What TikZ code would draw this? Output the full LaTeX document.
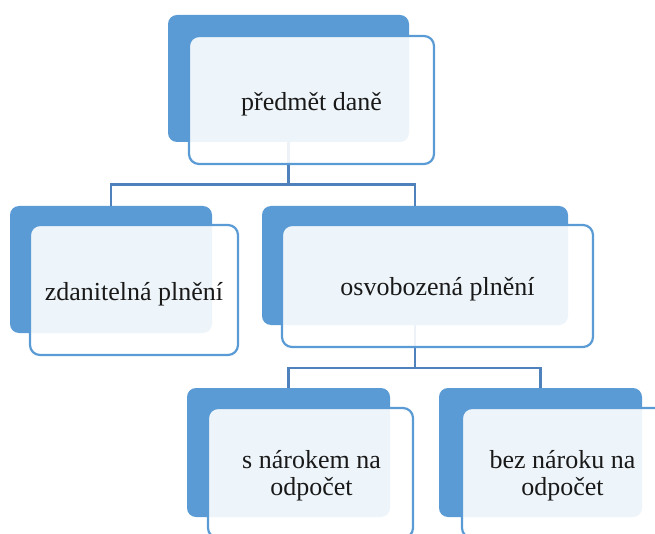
\documentclass[tikz,border=0pt]{standalone}
\usepackage{fontspec}
\setmainfont{Liberation Serif}
\definecolor{accent}{HTML}{5B9BD5}
\definecolor{linkblue}{HTML}{4F81BD}
\tikzset{
  backbox/.style={fill=accent, rounded corners=9pt, inner sep=0pt, outer sep=0pt},
  frontbox/.style={draw=accent, line width=2.2pt, fill=white, fill opacity=0.9,
    rounded corners=10pt, inner sep=0pt, outer sep=0pt},
  caption/.style={align=center, inner sep=0pt, text=black!90,
    font=\fontsize{26}{27}\selectfont},
  link/.style={draw=linkblue, line width=2.8pt}
}
\begin{document}
\begin{tikzpicture}[x=1pt,y=-1pt]
  \useasboundingbox (0,0) rectangle (655,534);
  \clip (0,0) rectangle (655,534);

  % coloured back plates
  \node[backbox, minimum width=241pt, minimum height=127pt] (btop) at (288.5,78.5) {};
  \node[backbox, minimum width=202pt, minimum height=127pt] (bzd)  at (111,269.5) {};
  \node[backbox, minimum width=306pt, minimum height=119pt] (bosv) at (415,265.5) {};
  \node[backbox, minimum width=203pt, minimum height=129pt] (bsn)  at (288.5,452.5) {};
  \node[backbox, minimum width=203pt, minimum height=129pt] (bbez) at (540.5,452.5) {};

  % tree connectors
  \coordinate (bus1) at (288.5,184.5);
  \coordinate (bus2) at (415,368);
  \draw[link] (btop.south) -- (bus1);
  \draw[link] (bus1) -| (bzd.north);
  \draw[link] (bus1) -| (bosv.north);
  \draw[link] (bosv.south) -- (bus2);
  \draw[link] (bus2) -| (bsn.north);
  \draw[link] (bus2) -| (bbez.north);

  % front cards
  \node[frontbox, minimum width=245pt, minimum height=128pt] (ftop) at (311.5,100) {};
  \node[frontbox, minimum width=208pt, minimum height=130pt] (fzd)  at (134,290) {};
  \node[frontbox, minimum width=311pt, minimum height=122pt] (fosv) at (437.5,286) {};
  \node[frontbox, minimum width=205pt, minimum height=130pt] (fsn)  at (310.5,473) {};
  \node[frontbox, minimum width=205pt, minimum height=130pt] (fbez) at (564.5,473) {};

  % labels
  \node[caption] (ttop) at ([yshift=-4pt]ftop.center) {předmět daně};
  \node[caption] (tzd)  at ([yshift=-4pt]fzd.center)  {zdanitelná plnění};
  \node[caption] (tosv) at ([yshift=-3pt]fosv.center) {osvobozená plnění};
  \node[caption] (tsn)  at ([xshift=1pt,yshift=-3pt]fsn.center)  {s nárokem na\\odpočet};
  \node[caption] (tbez) at ([xshift=-2pt,yshift=-3pt]fbez.center) {bez nároku na\\odpočet};
\end{tikzpicture}
\end{document}
